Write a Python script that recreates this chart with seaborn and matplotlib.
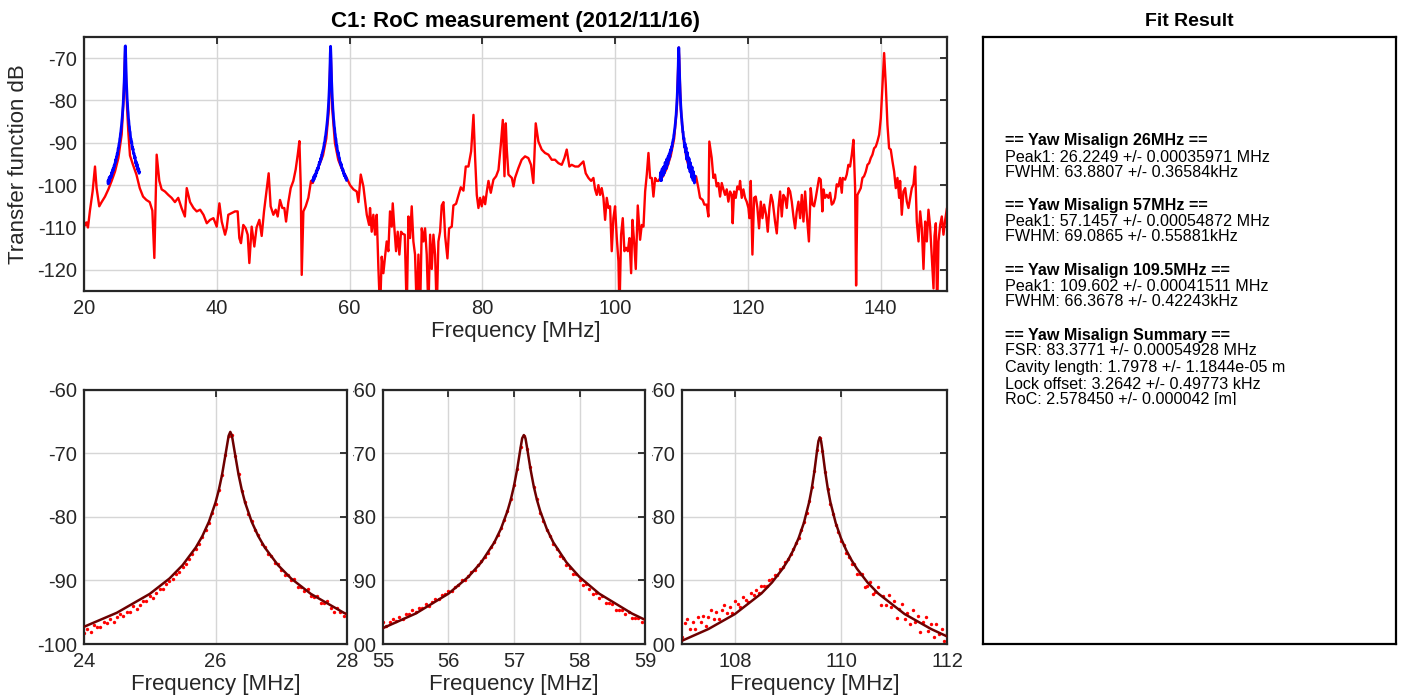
import numpy as np
import matplotlib
matplotlib.use("Agg")
import matplotlib.pyplot as plt
import seaborn as sns
from matplotlib.patches import Rectangle
from matplotlib.transforms import Bbox

# ---------------------------------------------------------------- data
# Broadband transfer function sweep (MHz, dB)
sweep_freq = [
    20.0, 20.2, 20.4, 20.6, 20.9, 21.3, 21.66, 21.9, 22.3, 22.66, 23.17, 23.67, 24.17, 24.67,
    25.18, 25.68, 25.95, 26.1, 26.22, 26.35, 26.5, 26.7, 26.93, 27.34, 27.9, 28.4, 28.9, 29.4,
    29.9, 30.3, 30.6, 30.95, 31.35, 31.7, 32.2, 32.7, 33.2, 33.7, 34.2, 34.7, 35.2, 35.48,
    35.98, 36.5, 36.98, 37.5, 38.0, 38.5, 39.0, 39.5, 40.0, 40.4, 40.75, 41.25, 41.49, 41.74,
    42.24, 42.75, 43.15, 43.4, 43.65, 44.0, 44.36, 44.66, 44.91, 45.26, 45.66, 46.0, 46.42,
    46.77, 47.12, 47.52, 47.82, 48.12, 48.53, 48.88, 49.18, 49.53, 49.88, 50.18, 50.44, 50.79,
    51.14, 51.54, 51.89, 52.2, 52.45, 52.65, 52.8, 53.05, 53.4, 53.8, 54.2, 54.46, 55.0, 55.5,
    56.0, 56.5, 56.9, 57.15, 57.4, 57.8, 58.3, 58.8, 59.3, 59.58, 60.08, 60.59, 61.09, 61.34,
    61.69, 62.09, 62.6, 62.95, 63.09, 63.34, 63.59, 63.84, 64.1, 64.35, 64.6, 64.85, 65.1,
    65.35, 65.6, 65.85, 66.1, 66.36, 66.51, 66.76, 67.01, 67.26, 67.51, 67.76, 68.01, 68.32,
    68.62, 68.87, 69.12, 69.37, 69.62, 69.87, 70.13, 70.38, 70.63, 70.88, 71.13, 71.38, 71.63,
    71.88, 72.14, 72.39, 72.64, 72.89, 73.14, 73.39, 73.64, 73.89, 74.15, 74.4, 74.75, 75.0,
    75.4, 75.65, 76.05, 76.41, 76.76, 77.16, 77.51, 77.91, 78.32, 78.67, 78.92, 79.17, 79.42,
    79.67, 79.92, 80.18, 80.43, 80.68, 80.93, 81.28, 81.68, 82.08, 82.44, 82.79, 83.09, 83.34,
    83.54, 83.69, 83.94, 84.2, 84.45, 84.7, 84.93, 85.43, 85.93, 86.44, 86.94, 87.34, 87.69,
    88.05, 88.45, 88.95, 89.45, 89.96, 90.46, 90.96, 91.46, 91.97, 92.37, 92.72, 93.12, 93.47,
    93.98, 94.48, 94.98, 95.23, 95.58, 95.99, 96.39, 96.74, 96.99, 97.24, 97.49, 97.74, 97.99,
    98.25, 98.5, 98.75, 99.0, 99.25, 99.5, 99.75, 100.0, 100.26, 100.51, 100.66, 100.91,
    101.16, 101.41, 101.66, 101.92, 102.17, 102.42, 102.62, 102.87, 103.12, 103.42, 103.77,
    104.02, 104.28, 104.53, 104.78, 105.03, 105.28, 105.53, 105.78, 106.04, 106.29, 106.54,
    106.79, 107.2, 107.8, 108.4, 108.9, 109.3, 109.6, 109.9, 110.3, 110.8, 111.4, 111.9, 112.2,
    112.55, 112.8, 113.2, 113.45, 113.8, 114.06, 114.2, 114.56, 114.81, 115.06, 115.31, 115.56,
    115.82, 116.07, 116.32, 116.57, 116.82, 117.07, 117.32, 117.57, 117.72, 117.93, 118.18,
    118.43, 118.68, 118.83, 119.08, 119.33, 119.58, 119.83, 120.09, 120.24, 120.44, 120.69,
    120.94, 121.19, 121.44, 121.69, 121.95, 122.2, 122.45, 122.75, 123.0, 123.25, 123.5,
    123.75, 124.1, 124.36, 124.61, 124.86, 125.11, 125.36, 125.61, 125.86, 126.12, 126.37,
    126.62, 126.87, 127.12, 127.37, 127.62, 127.88, 128.13, 128.38, 128.63, 128.88, 129.2,
    129.47, 129.73, 129.98, 130.23, 130.48, 130.73, 130.98, 131.23, 131.38, 131.64, 131.89,
    132.14, 132.39, 132.64, 132.89, 133.14, 133.39, 133.65, 133.9, 134.15, 134.3, 134.65,
    134.9, 135.15, 135.4, 135.66, 135.91, 136.16, 136.31, 136.51, 136.76, 137.01, 137.26,
    137.51, 137.77, 138.02, 138.27, 138.52, 138.77, 139.02, 139.27, 139.52, 139.78, 140.03,
    140.28, 140.53, 140.78, 141.03, 141.28, 141.53, 141.79, 142.04, 142.29, 142.54, 142.79,
    142.94, 143.19, 143.44, 143.7, 143.95, 144.2, 144.45, 144.7, 144.95, 145.2, 145.45,
    145.71, 145.96, 146.21, 146.46, 146.71, 146.96, 147.21, 147.46, 147.72, 147.97, 148.12,
    148.32, 148.52, 148.72, 148.97, 149.22, 149.47, 149.73, 150.0,
]
sweep_db = [
    -108.6, -109.5, -108.8, -110.0, -106.0, -101.5, -95.6, -100.7, -105.0, -104.0, -102.7,
    -101.0, -99.0, -96.8, -93.6, -88.0, -80.0, -74.0, -67.5, -76.0, -82.0, -88.0, -93.0,
    -95.0, -97.5, -100.7, -102.7, -103.5, -104.0, -106.0, -117.2, -92.8, -99.0, -101.0,
    -101.5, -102.3, -103.0, -104.0, -103.0, -105.4, -107.4, -100.7, -104.0, -105.4, -106.2,
    -105.8, -107.0, -109.0, -108.2, -107.8, -109.8, -104.3, -108.6, -111.7, -110.2, -107.0,
    -106.6, -106.2, -106.2, -112.5, -113.7, -109.4, -110.2, -111.7, -118.4, -109.8, -114.5,
    -110.0, -108.2, -112.0, -106.2, -101.0, -97.2, -105.0, -107.0, -105.8, -107.4, -103.5,
    -105.4, -105.4, -108.6, -104.0, -100.7, -99.0, -96.3, -92.8, -89.6, -100.0, -121.2,
    -106.2, -105.0, -103.0, -99.0, -99.5, -97.0, -95.0, -93.0, -89.0, -82.0, -67.5, -82.0,
    -90.0, -94.0, -96.0, -97.5, -98.3, -100.0, -101.0, -101.5, -104.0, -97.5, -100.3, -107.0,
    -109.4, -105.4, -111.0, -107.0, -111.7, -107.0, -119.6, -130.0, -116.9, -120.8, -116.9,
    -113.3, -115.6, -106.2, -109.8, -104.3, -110.2, -115.6, -111.0, -116.4, -111.0, -111.5,
    -111.7, -130.0, -107.4, -112.5, -105.0, -113.3, -116.4, -130.0, -116.4, -130.0, -110.2,
    -113.3, -110.2, -116.4, -130.0, -111.7, -119.8, -111.7, -116.4, -130.0, -113.3, -111.0,
    -104.8, -104.0, -112.0, -117.3, -110.2, -109.8, -104.8, -104.4, -102.4, -100.5, -101.3,
    -95.6, -95.6, -92.0, -83.4, -93.6, -102.3, -105.4, -103.0, -105.0, -102.7, -104.5,
    -101.5, -99.0, -101.8, -98.7, -97.9, -96.4, -90.5, -84.6, -97.9, -85.4, -91.5, -97.5,
    -97.9, -98.3, -100.3, -98.3, -96.0, -94.0, -93.2, -93.6, -95.2, -99.5, -85.4, -89.7,
    -91.6, -92.4, -92.8, -94.0, -94.0, -94.8, -95.2, -93.6, -91.6, -95.6, -95.2, -95.6,
    -95.6, -94.8, -94.4, -97.2, -98.3, -99.0, -98.3, -101.0, -102.3, -100.0, -102.3, -100.7,
    -103.0, -108.2, -103.0, -105.4, -105.0, -115.6, -107.8, -105.0, -112.5, -118.0, -130.0,
    -111.7, -107.8, -115.6, -114.8, -115.6, -112.5, -120.8, -108.2, -113.3, -119.8, -104.8,
    -112.9, -109.4, -109.8, -101.5, -97.5, -92.4, -98.3, -98.3, -102.7, -98.3, -99.0, -99.0,
    -98.3, -98.0, -96.0, -93.0, -89.0, -82.0, -67.5, -82.0, -89.0, -94.0, -97.0, -98.0,
    -97.9, -100.7, -103.0, -103.5, -104.6, -104.6, -107.4, -89.7, -93.6, -98.3, -97.5,
    -100.3, -99.5, -102.7, -99.5, -101.0, -102.3, -101.0, -103.9, -101.5, -102.3, -109.0,
    -101.5, -103.0, -100.3, -101.0, -99.0, -103.0, -101.0, -103.0, -103.9, -105.4, -107.8,
    -99.0, -116.4, -103.0, -102.7, -105.4, -110.2, -103.9, -107.8, -104.6, -107.0, -111.0,
    -105.4, -102.3, -103.9, -108.6, -111.4, -105.4, -101.5, -107.4, -102.3, -103.0, -105.4,
    -100.7, -101.5, -103.9, -107.4, -110.2, -106.2, -103.9, -107.8, -102.3, -108.6, -101.5,
    -107.0, -113.3, -100.7, -104.6, -105.0, -103.0, -100.7, -98.3, -98.7, -106.2, -101.0,
    -103.0, -102.3, -103.0, -101.8, -104.6, -104.2, -103.0, -99.8, -100.3, -98.3, -101.8,
    -98.3, -98.7, -97.5, -95.2, -95.6, -92.8, -89.3, -100.7, -123.7, -102.3, -101.5, -100.7,
    -98.3, -97.9, -96.8, -95.2, -94.8, -93.6, -92.8, -91.3, -90.9, -89.7, -88.1, -84.2,
    -76.3, -68.8, -76.3, -85.7, -91.3, -91.6, -94.4, -96.8, -100.7, -98.3, -103.0, -99.0,
    -107.0, -101.5, -100.7, -103.9, -105.4, -103.0, -100.7, -99.8, -95.6, -108.6, -113.3,
    -106.2, -110.2, -119.8, -108.6, -113.3, -105.8, -109.8, -117.3, -124.4, -112.0, -109.0,
    -130.0, -113.3, -109.4, -107.4, -111.7, -108.2, -105.4,
]

# Fine scans around the three resonances (0.05 MHz steps)
scan26_freq = np.round(np.arange(23.60, 28.401, 0.05), 2)
scan26_db = [
    -99.0, -99.7, -98.9, -99.1, -98.2, -99.2, -98.4, -97.9, -98.3, -97.7,
    -98.1, -97.0, -97.3, -97.4, -96.5, -96.7, -96.0, -96.5, -95.8, -95.3,
    -95.6, -94.9, -94.9, -94.0, -94.5, -93.8, -93.3, -93.3, -92.5, -92.7,
    -92.0, -91.3, -91.3, -90.6, -90.1, -89.8, -89.0, -88.7, -87.8, -87.4,
    -86.6, -85.9, -85.0, -84.2, -83.2, -82.0, -80.9, -79.4, -77.9, -75.8,
    -73.4, -70.3, -67.2, -67.1, -70.4, -73.2, -75.9, -77.6, -79.5, -80.6,
    -82.1, -82.9, -84.2, -84.8, -85.8, -86.2, -87.3, -87.4, -88.4, -89.1,
    -89.1, -90.0, -89.8, -91.1, -91.0, -91.6, -91.4, -92.5, -92.6, -92.5,
    -93.6, -93.6, -93.3, -94.3, -94.9, -94.4, -94.9, -95.6, -95.0, -95.8,
    -96.4, -95.9, -96.7, -96.2, -97.2, -97.0, -96.9,
]
scan57_freq = np.round(np.arange(54.45, 59.601, 0.05), 2)
scan57_db = [
    -98.7, -99.1, -98.5, -98.0, -98.7, -98.1, -97.6, -98.0, -97.4, -97.9,
    -97.1, -96.6, -97.1, -96.6, -96.1, -96.4, -95.8, -96.1, -95.3, -95.3,
    -94.6, -95.0, -94.4, -94.4, -93.7, -94.0, -93.4, -92.9, -92.9, -92.3,
    -92.1, -91.7, -91.6, -91.0, -90.7, -90.0, -89.9, -89.3, -88.6, -88.3,
    -87.6, -87.0, -86.3, -85.6, -84.8, -83.9, -82.9, -81.8, -80.5, -79.0,
    -77.2, -75.0, -72.5, -69.0, -67.2, -69.3, -72.2, -75.3, -77.2, -79.3,
    -80.6, -82.1, -83.0, -84.3, -85.0, -86.1, -86.5, -87.6, -88.0, -89.0,
    -89.0, -89.9, -90.7, -90.6, -91.4, -92.1, -92.0, -92.7, -92.5, -93.5,
    -93.5, -93.7, -94.6, -94.6, -94.7, -95.3, -95.0, -95.9, -95.9, -95.9,
    -96.6, -96.5, -96.4, -97.2, -97.1, -97.7, -97.4, -97.9, -97.7, -98.4,
    -98.4, -98.2, -98.9, -98.8,
]
scan110_freq = np.round(np.arange(106.80, 112.051, 0.05), 2)
scan110_db = [
    -97.8, -98.9, -96.9, -98.0, -98.9, -96.7, -96.1, -97.6, -96.6, -97.7,
    -95.7, -96.6, -95.6, -97.1, -95.7, -94.6, -96.0, -95.0, -96.1, -94.7,
    -93.8, -95.1, -94.2, -95.1, -93.2, -93.7, -94.1, -92.6, -93.0, -93.4,
    -92.0, -92.3, -91.5, -91.9, -90.9, -90.9, -90.9, -89.9, -89.8, -89.2,
    -89.1, -88.2, -87.8, -87.1, -86.6, -85.8, -85.1, -84.1, -83.3, -82.0,
    -80.8, -79.4, -77.5, -75.3, -72.8, -69.4, -67.5, -69.6, -72.9, -75.6,
    -77.9, -79.6, -81.2, -82.3, -83.8, -84.4, -85.7, -86.3, -87.4, -87.4,
    -89.0, -89.0, -88.9, -91.0, -90.8, -90.2, -92.2, -91.8, -91.1, -93.8,
    -92.5, -93.8, -92.3, -94.2, -93.3, -95.9, -94.5, -93.7, -96.1, -95.1,
    -96.9, -94.7, -96.6, -95.6, -98.1, -96.6, -95.7, -98.0, -96.9, -98.9,
    -96.8, -98.4, -97.6, -99.5, -98.3, -97.9,
]

# Fitted resonance curves
fit26_freq = [24.0, 24.5, 25.0, 25.3, 25.5, 25.7, 25.8, 25.9, 26.0, 26.05, 26.1, 26.15, 26.2,
              26.225, 26.25, 26.3, 26.35, 26.4, 26.45, 26.55, 26.65, 26.75, 26.95, 27.15,
              27.45, 27.95, 28.0]
fit26_db = [-97.29, -95.08, -92.11, -89.69, -87.58, -84.81, -83.01, -80.75, -77.73, -75.76,
            -73.32, -70.28, -67.20, -66.60, -67.20, -70.28, -73.32, -75.76, -77.73, -80.75,
            -83.01, -84.81, -87.58, -89.69, -92.11, -95.08, -95.32]
fit57_freq = [55.0, 55.5, 56.0, 56.3, 56.5, 56.7, 56.8, 56.9, 56.95, 57.0, 57.05, 57.1, 57.125,
              57.15, 57.175, 57.2, 57.25, 57.3, 57.35, 57.4, 57.5, 57.6, 57.8, 58.0, 58.3,
              58.8, 59.0]
fit57_db = [-97.50, -95.20, -92.07, -89.46, -87.14, -84.00, -81.87, -79.08, -77.30, -75.11,
            -72.37, -69.12, -67.60, -67.10, -67.60, -69.12, -72.37, -75.11, -77.30, -79.08,
            -81.87, -84.00, -87.14, -89.46, -92.07, -95.20, -96.19]
fit110_freq = [107.0, 107.5, 108.0, 108.5, 108.7, 108.9, 109.0, 109.1, 109.2, 109.3, 109.4,
               109.45, 109.5, 109.55, 109.575, 109.6, 109.625, 109.65, 109.7, 109.75, 109.8,
               109.9, 110.0, 110.1, 110.2, 110.3, 110.5, 110.7, 111.2, 111.7, 112.0]
fit110_db = [-99.49, -97.64, -95.28, -92.03, -90.30, -88.13, -86.81, -85.24, -83.35, -80.93,
             -77.65, -75.46, -72.72, -69.47, -68.05, -67.45, -68.05, -69.47, -72.72, -75.46,
             -77.65, -80.93, -83.35, -85.24, -86.81, -88.13, -90.30, -92.03, -95.28, -97.64,
             -98.80]

fit_lines = [
    ("== Yaw Misalign 26MHz ==", True),
    ("Peak1: 26.2249 +/- 0.00035971 MHz", False),
    ("FWHM: 63.8807 +/- 0.36584kHz", False),
    ("== Yaw Misalign 57MHz ==", True),
    ("Peak1: 57.1457 +/- 0.00054872 MHz", False),
    ("FWHM: 69.0865 +/- 0.55881kHz", False),
    ("== Yaw Misalign 109.5MHz ==", True),
    ("Peak1: 109.602 +/- 0.00041511 MHz", False),
    ("FWHM: 66.3678 +/- 0.42243kHz", False),
    ("== Yaw Misalign Summary ==", True),
    ("FSR: 83.3771 +/- 0.00054928 MHz", False),
    ("Cavity length: 1.7978 +/- 1.1844e-05 m", False),
    ("Lock offset: 3.2642 +/- 0.49773 kHz", False),
    ("RoC: 2.578450 +/- 0.000042 [m]", False),
]
fit_line_y = [0.8292, 0.8018, 0.7765, 0.7227, 0.6957, 0.6710, 0.6150, 0.5886, 0.5639,
              0.5079, 0.4832, 0.4559, 0.4283, 0.4020]

# ---------------------------------------------------------------- style
sns.set_theme(style="white")
plt.rcParams['font.family'] = ['Liberation Sans', 'DejaVu Sans']
plt.rcParams['axes.unicode_minus'] = False

INK = '#262626'
GRID = '#d6d6d6'
FIT = '#6e0000'
TICK_FS = 14.5
LABEL_FS = 16
W_PX, H_PX = 1409, 700


def matlab_axes(ax, xticks, yticks, xlim, ylim):
    ax.set_xlim(*xlim)
    ax.set_ylim(*ylim)
    ax.set_xticks(xticks)
    ax.set_yticks(yticks)
    ax.set_xticklabels([f"{t:g}" for t in xticks])
    ax.set_yticklabels([f"{t:g}" for t in yticks])
    ax.tick_params(direction='in', length=5, width=1.3, top=True, right=True,
                   labelsize=TICK_FS, color=INK, labelcolor=INK)
    ax.tick_params(axis='y', pad=5)
    ax.tick_params(axis='x', pad=6)
    for s in ax.spines.values():
        s.set_linewidth(1.6)
        s.set_color(INK)
    ax.grid(True, color=GRID, linewidth=1.0)
    ax.set_axisbelow(True)
    ax.set_facecolor('white')


fig = plt.figure(figsize=(W_PX / 100, H_PX / 100), dpi=100)

# ---------------------------------------------------------------- top sweep
ax_top = fig.add_axes([0.0596, 0.5843, 0.6125, 0.3629])
sns.lineplot(x=sweep_freq, y=sweep_db, ax=ax_top, color='red', linewidth=1.7,
             estimator=None, sort=False)
for f, d in [(scan26_freq, scan26_db), (scan57_freq, scan57_db), (scan110_freq, scan110_db)]:
    sns.lineplot(x=f, y=d, ax=ax_top, color='blue', linewidth=2.0,
                 estimator=None, sort=False)
matlab_axes(ax_top, [20, 40, 60, 80, 100, 120, 140], [-120, -110, -100, -90, -80, -70],
            (20, 150), (-125, -65))
ax_top.set_xlabel('Frequency [MHz]', fontsize=LABEL_FS, color=INK, labelpad=2)
ax_top.set_ylabel('Transfer function dB', fontsize=LABEL_FS, color=INK, labelpad=6)
ax_top.set_title('C1: RoC measurement (2012/11/16)', fontsize=16, fontweight='bold',
                 color='black', pad=7)

# ---------------------------------------------------------------- zoomed fits
panels = [
    ([0.0596, 0.08, 0.1867, 0.3629], scan26_freq, scan26_db, fit26_freq, fit26_db,
     [24, 26, 28], (24, 28), 3),
    ([0.2718, 0.08, 0.1860, 0.3629], scan57_freq, scan57_db, fit57_freq, fit57_db,
     [55, 56, 57, 58, 59], (55, 59), 2),
    ([0.4840, 0.08, 0.1881, 0.3629], scan110_freq, scan110_db, fit110_freq, fit110_db,
     [108, 110, 112], (107, 112), 1),
]
for i, (rect, sf, sd, ff, fd, xt, xl, z) in enumerate(panels):
    ax = fig.add_axes(rect)
    ax.set_zorder(z)
    sns.scatterplot(x=sf, y=sd, ax=ax, color='red', s=6, linewidth=0, zorder=2)
    sns.lineplot(x=ff, y=fd, ax=ax, color=FIT, linewidth=1.8, estimator=None,
                 sort=False, zorder=3)
    matlab_axes(ax, xt, [-100, -90, -80, -70, -60], xl, (-100, -60))
    ax.set_xlabel('Frequency [MHz]', fontsize=LABEL_FS, color=INK, labelpad=2)
    ax.set_ylabel('')
    # y tick labels of the inner panels are tucked behind the panel to their left
    if i > 0:
        hide = Bbox.from_extents(rect[0] * W_PX - 30, 0, W_PX, H_PX)
        for tick in ax.yaxis.get_major_ticks():
            tick.label1.set_clip_on(True)
            tick.label1.set_clip_box(hide)

# ---------------------------------------------------------------- fit summary box
ax_box = fig.add_axes([0.6977, 0.08, 0.2931, 0.8671])
ax_box.set_xticks([])
ax_box.set_yticks([])
for s in ax_box.spines.values():
    s.set_linewidth(1.6)
    s.set_color('black')
ax_box.set_xlim(0, 1)
ax_box.set_ylim(0, 1)
ax_box.set_title('Fit Result', fontsize=14, fontweight='bold', color='black', pad=8)
clip = Rectangle((0, 0.393), 1, 0.607, transform=ax_box.transAxes)
for (line, bold), y in zip(fit_lines, fit_line_y):
    t = ax_box.text(0.053, y, line, transform=ax_box.transAxes, fontsize=11.6,
                    fontweight='bold' if bold else 'normal', color='black',
                    ha='left', va='center')
    t.set_clip_on(True)
    t.set_clip_path(clip)

fig.savefig('out.png', dpi=100)
